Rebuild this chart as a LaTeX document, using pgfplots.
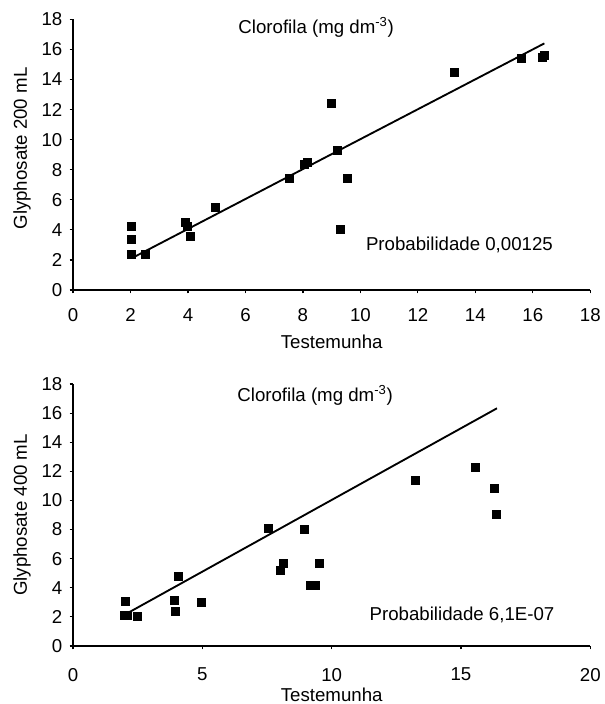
\documentclass[border=0pt]{standalone}
\usepackage{fontspec}
\setmainfont{Liberation Sans}
\usepackage{pgfplots}
\pgfplotsset{compat=1.18}

\pgfplotsset{
    glystyle/.style={
        scale only axis,
        width=388pt,
        axis lines=left,
        axis line style={-, line width=1.1pt},
        tick align=outside,
        major tick length=2.5pt,
        tick style={black, line width=0.9pt},
        ymin=0, ymax=18,
        ytick={0,2,...,18},
        xmin=0,
        font=\fontsize{14}{16}\selectfont,
        /pgf/number format/assume math mode=true,
        yticklabel style={xshift=-2pt},
        xlabel={Testemunha},
        clip=false,
    },
    pts/.style={only marks, mark=square*, mark size=3pt, black},
    fit/.style={black, line width=1.4pt, no marks},
}

\begin{document}
\begin{tikzpicture}
\useasboundingbox (-54.75pt,-310.5pt) rectangle (398.25pt,217.5pt);
\begin{axis}[
    glystyle,
    height=203pt,
    xmax=18,
    xtick={0,2,...,18},
    xticklabel style={yshift=-8pt},
    xlabel style={yshift=-3pt},
    ylabel={Glyphosate 200 mL},
    ylabel style={at={(axis description cs:-0.0986,0.523)}, anchor=center},
]
\addplot[pts] coordinates {
    (2.02,4.27) (2.02,3.39) (2.02,2.39) (2.52,2.35) (3.91,4.49)
    (3.97,4.27) (4.09,3.56) (4.96,5.49) (7.52,7.42) (8.03,8.37)
    (8.16,8.48) (8.99,12.42) (9.21,9.30) (9.31,4.07) (9.53,7.42)
    (13.25,14.46) (15.58,15.39) (16.34,15.45) (16.38,15.63)
};
\addplot[fit] coordinates {(2.06,2.13) (16.4,16.4)};
\node at (rel axis cs:0.47,0.969) {Clorofila (mg dm\textsuperscript{-3})};
\node at (rel axis cs:0.747,0.168) {Probabilidade 0,00125};
\end{axis}

\begin{axis}[
    glystyle,
    at={(0pt,-267pt)},
    height=196.5pt,
    xmax=20,
    xtick={0,5,...,20},
    xticklabel style={yshift=-10.5pt},
    xlabel style={yshift=2pt},
    ylabel={Glyphosate 400 mL},
    ylabel style={at={(axis description cs:-0.0986,0.5)}, anchor=center},
]
\addplot[pts] coordinates {
    (2.02,3.08) (1.99,2.10) (2.08,2.10) (2.50,2.06) (3.93,3.13)
    (3.96,2.40) (4.08,4.77) (4.96,3.01) (7.53,8.11) (8.12,5.71)
    (8.00,5.21) (8.96,8.04) (9.19,4.16) (9.35,4.16) (9.51,5.71)
    (13.24,11.37) (15.57,12.29) (16.28,10.87) (16.38,9.02)
};
\addplot[fit] coordinates {(2.09,2.24) (16.39,16.33)};
\node at (rel axis cs:0.468,0.958) {Clorofila (mg dm\textsuperscript{-3})};
\node at (rel axis cs:0.752,0.117) {Probabilidade 6,1E-07};
\end{axis}
\end{tikzpicture}
\end{document}
